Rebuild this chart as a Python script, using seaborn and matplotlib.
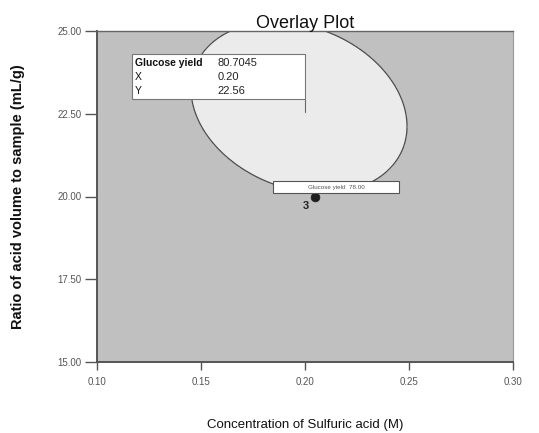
import numpy as np
import pandas as pd
import matplotlib
matplotlib.use("Agg")
import matplotlib.pyplot as plt
import seaborn as sns

# Quadratic response-surface model (coded factors A, B) for glucose yield
coef_names = ["b0", "A", "B", "AB", "A2", "B2"]
coef_vals = [77.687, 1.908, 11.372, -4.684, -10.589, -10.698]
contour_level = 78.00

x_range = [0.10, 0.30]
y_range = [15.00, 25.00]
x_ticks = [0.10, 0.15, 0.20, 0.25, 0.30]
y_ticks = [15.00, 17.50, 20.00, 22.50, 25.00]

flag_x, flag_y, flag_val = 0.20, 22.56, 80.7045
flag_rows = ["Glucose yield", "X", "Y"]
design_x, design_y, design_rep = [0.205], [19.98], "3"

sns.set_theme(style="white")
plt.rcParams['font.family'] = ['Liberation Sans', 'DejaVu Sans']

fig = plt.figure(figsize=(5.39, 4.33), dpi=100)
ax = fig.add_axes([97/539, 1-362/433, (513-97)/539, (362-31)/433])
ax.set_facecolor("#c0c0c0")

xs = np.linspace(x_range[0], x_range[1], 500)
ys = np.linspace(y_range[0], y_range[1], 500)
X, Y = np.meshgrid(xs, ys)
A = (X - 0.20) / 0.10
B = (Y - 20.0) / 5.0
b0, bA, bB, bAB, bAA, bBB = coef_vals
Z = b0 + bA*A + bB*B + bAB*A*B + bAA*A*A + bBB*B*B

ax.contourf(X, Y, Z, levels=[contour_level, 1e9], colors=["#ebebeb"])
ax.contour(X, Y, Z, levels=[contour_level], colors=["#4a4a4a"], linewidths=0.9)

sns.scatterplot(x=design_x, y=design_y, ax=ax, color="#1e1e1e", s=40, edgecolor="#1e1e1e",
                zorder=5, legend=False)
ax.text(design_x[0]-0.003, design_y[0]-0.12, design_rep, fontsize=8, fontweight="bold",
        ha="right", va="top", color="#222222")

ax.set_xlim(*x_range)
ax.set_ylim(*y_range)
ax.set_xticks(x_ticks)
ax.set_yticks(y_ticks)
ax.set_xticklabels([f"{v:.2f}" for v in x_ticks])
ax.set_yticklabels([f"{v:.2f}" for v in y_ticks])
ax.tick_params(axis="both", direction="out", width=1, color="#555555",
               labelsize=7, labelcolor="#555555", bottom=True, left=True)
ax.tick_params(axis="x", length=6, pad=5)
ax.tick_params(axis="y", length=9, pad=2)
for side in ["left", "bottom"]:
    ax.spines[side].set_color("#555555")
    ax.spines[side].set_linewidth(1.4)
ax.spines["top"].set_color("#666666")
ax.spines["top"].set_linewidth(1.0)
ax.spines["right"].set_color("#999999")
ax.spines["right"].set_linewidth(0.8)

ax.set_xlabel("Concentration of Sulfuric acid (M)", fontsize=9.5, color="#111111")
ax.xaxis.set_label_coords(0.5, (362-419)/331)
ax.set_ylabel("Ratio of acid volume to sample (mL/g)", fontsize=10.5,
              color="#111111", fontweight="bold")
ax.yaxis.set_label_coords((25-97)/416, 0.5)
ax.set_title("Overlay Plot", fontsize=13, pad=2, color="#111111")

# Flag box for the selected point
box_l, box_b, box_t = 0.1167, 22.95, 24.31
ax.plot([flag_x, flag_x], [box_b, flag_y], color="#666666", lw=0.8, zorder=6)
ax.add_patch(plt.Rectangle((box_l, box_b), flag_x-box_l, box_t-box_b,
                           facecolor="white", edgecolor="#777777", lw=0.8, zorder=7))
row_y = [24.03, 23.61, 23.19]
vals = [f"{flag_val:.4f}", f"{flag_x:.2f}", f"{flag_y:.2f}"]
for i, (lab, v) in enumerate(zip(flag_rows, vals)):
    ax.text(box_l+0.0015, row_y[i], lab, fontsize=7.5, ha="left", va="center",
            color="#111111", zorder=8, fontweight="bold" if i == 0 else "normal")
    ax.text(0.158, row_y[i], v, fontsize=8, ha="left", va="center",
            color="#222222", zorder=8)

# Contour label box
ax.add_patch(plt.Rectangle((0.1845, 20.10), 0.0605, 0.36, facecolor="white",
                           edgecolor="#555555", lw=0.8, zorder=7))
ax.text(0.215, 20.28, f"Glucose yield  {contour_level:.2f}", fontsize=4.5, ha="center",
        va="center", color="#555555", zorder=8)

fig.text(0.985, 1.01, "Overlay Plot", fontsize=13, fontweight="bold", ha="right", va="bottom")

fig.savefig("out.png", dpi=100)
